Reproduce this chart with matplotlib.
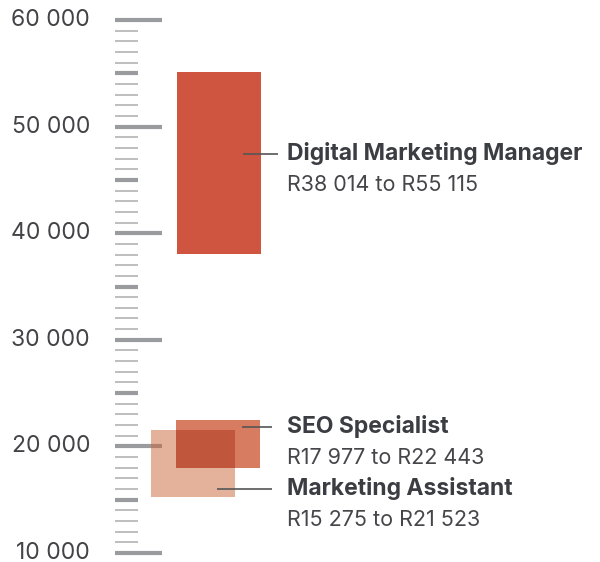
import matplotlib.pyplot as plt
from matplotlib.transforms import offset_copy

plt.rcParams['font.family'] = ['Inter', 'DejaVu Sans']

# data
jobs = ['Digital Marketing Manager', 'SEO Specialist', 'Marketing Assistant']
low = [38014, 17977, 15275]
high = [55115, 22443, 21523]
range_labels = ['R38 014 to R55 115', 'R17 977 to R22 443', 'R15 275 to R21 523']
yticks = [10000, 20000, 30000, 40000, 50000, 60000]

# styles (pixel-based x since axes spans whole figure)
bar_left = [177, 176, 151]
bar_width = 84
bar_colors = ['#d05541', '#cd5a3a', '#cb6539']
bar_alpha = [1.0, 0.8, 0.5]
overlap_color = '#c0563c'
label_y = [47430, 21850, 16030]

fig = plt.figure(figsize=(6, 5.62), dpi=100)
ax = fig.add_axes([0, 0, 1, 1])
ax.set_xlim(0, 600)
ax.set_ylim(9156, 61876)
ax.axis('off')

# ruler ticks
for v in range(10000, 60001, 1000):
    if v % 10000 == 0:
        ax.hlines(v, 115, 162, color='#9a9b9f', lw=3.0, zorder=1)
    elif v % 5000 == 0:
        ax.hlines(v, 115, 138, color='#9a9b9f', lw=3.0, zorder=1)
    else:
        ax.hlines(v, 115, 138, color='#b3b3b3', lw=1.2, zorder=1)

for v in yticks:
    ax.text(90, v, f'{v:,}'.replace(',', ' '), ha='right', va='center',
            fontsize=16.5, color='#444448')

# bars
for i in range(len(jobs)):
    ax.bar(bar_left[i], high[i] - low[i], bottom=low[i], width=bar_width,
           align='edge', color=bar_colors[i], alpha=bar_alpha[i], lw=0, zorder=2)

# overlap of SEO and assistant shows darker (multiply look)
o_left = max(bar_left[1], bar_left[2])
o_right = min(bar_left[1], bar_left[2]) + bar_width
o_low = max(low[1], low[2])
o_high = min(high[1], high[2])
ax.bar(o_left, o_high - o_low, bottom=o_low, width=o_right - o_left,
       align='edge', color=overlap_color, lw=0, zorder=3)

# connectors and labels
line_end = [278, 272, 272]
below = offset_copy(ax.transData, fig=fig, y=-31 * 0.72, units='points')
for i in range(len(jobs)):
    ax.hlines(label_y[i], bar_left[i] + bar_width - 18, line_end[i],
              color='#555555', lw=1.2, zorder=4)
    ax.text(287, label_y[i], jobs[i], ha='left', va='center', fontsize=16.5,
            fontweight='bold', color='#3b3d43')
    ax.text(287, label_y[i], range_labels[i], ha='left', va='center',
            fontsize=15.5, color='#46464a', transform=below)

fig.savefig('out.png', dpi=100)
